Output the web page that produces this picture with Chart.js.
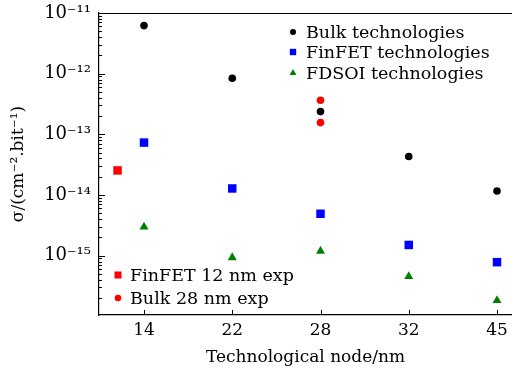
<!DOCTYPE html>
<html>
<head>
<meta charset="utf-8">
<script src="https://cdn.jsdelivr.net/npm/chart.js@4.4.1/dist/chart.umd.min.js"></script>
<style>
  html, body { margin: 0; padding: 0; background: #fff; }
</style>
</head>
<body>
<canvas id="chart" width="512" height="372"></canvas>
<script>
// x axis: technology nodes shown at positions 1..5
const nodeLabels = ['14', '22', '28', '32', '45'];
const nodePos = [1, 2, 3, 4, 5];

// sigma values (cm^-2.bit^-1)
const bulkValues = [6.2e-12, 8.4e-13, 2.37e-13, 4.3e-14, 1.16e-14];
const finfetValues = [7.3e-14, 1.28e-14, 4.9e-15, 1.5e-15, 7.8e-16];
const fdsoiValues = [2.97e-15, 9.3e-16, 1.19e-15, 4.55e-16, 1.82e-16];

// experimental points
const finfet12Pos = [0.7];
const finfet12Values = [2.54e-14];
const bulk28Pos = [3, 3];
const bulk28Values = [3.65e-13, 1.56e-13];

// y axis labels at each decade
const yTickValues = [1e-15, 1e-14, 1e-13, 1e-12, 1e-11];

const FONT = '"DejaVu Serif", serif';
const supMap = { '-': '\u207B', '0': '\u2070', '1': '\u00B9', '2': '\u00B2', '3': '\u00B3',
    '4': '\u2074', '5': '\u2075', '6': '\u2076', '7': '\u2077', '8': '\u2078', '9': '\u2079' };

function sup(str) {
    return String(str).split('').map(c => supMap[c] || c).join('');
}

function points(xs, ys) {
    return xs.map((x, i) => ({ x: x, y: ys[i] }));
}

// inward tick marks and the top spine, like the original figure
const tickPlugin = {
    id: 'inTicks',
    afterDraw(chart) {
        const { ctx, chartArea: a, scales: { x, y } } = chart;
        ctx.save();
        ctx.strokeStyle = '#000';
        ctx.lineWidth = 1;
        ctx.beginPath();
        ctx.moveTo(a.left, a.top + 0.5);
        ctx.lineTo(a.right, a.top + 0.5);
        for (let e = -17; e <= -11; e++) {
            for (let k = 1; k <= 9; k++) {
                const v = k * Math.pow(10, e);
                if (v < y.min * 0.999 || v > y.max * 1.001) continue;
                const py = Math.round(y.getPixelForValue(v)) + 0.5;
                const len = k === 1 ? 6 : 3;
                ctx.moveTo(a.left, py);
                ctx.lineTo(a.left + len, py);
            }
        }
        nodePos.forEach(p => {
            const px = Math.round(x.getPixelForValue(p)) + 0.5;
            ctx.moveTo(px, a.bottom);
            ctx.lineTo(px, a.bottom - 5);
        });
        ctx.stroke();
        ctx.restore();
    }
};

// two separate legends: technologies top right, experiments bottom left
const legendPlugin = {
    id: 'twoLegends',
    afterDraw(chart) {
        const ctx = chart.ctx;
        const ds = chart.data.datasets;
        const entries = [
            { i: 0, mx: 293, tx: 306, y: 32, r: 3 },
            { i: 1, mx: 293, tx: 306, y: 52, r: 4.5 },
            { i: 2, mx: 293, tx: 306, y: 73, r: 4 },
            { i: 3, mx: 118, tx: 130, y: 275, r: 5 },
            { i: 4, mx: 118, tx: 130, y: 298, r: 3.3 }
        ];
        ctx.save();
        ctx.font = '17.5px ' + FONT;
        ctx.textBaseline = 'middle';
        entries.forEach(e => {
            const d = ds[e.i];
            ctx.fillStyle = d.backgroundColor;
            Chart.helpers.drawPoint(ctx, { pointStyle: d.pointStyle, radius: e.r, borderWidth: 0, rotation: 0 }, e.mx, e.y);
            ctx.fillStyle = '#000';
            ctx.fillText(d.label, e.tx, e.y + 1);
        });
        ctx.restore();
    }
};

const ctx = document.getElementById('chart');
new Chart(ctx, {
    type: 'scatter',
    data: {
        datasets: [
            { label: 'Bulk technologies', data: points(nodePos, bulkValues),
              pointStyle: 'circle', pointRadius: 3.8, backgroundColor: '#000000', borderWidth: 0 },
            { label: 'FinFET technologies', data: points(nodePos, finfetValues),
              pointStyle: 'rect', pointRadius: 6, backgroundColor: '#0000ff', borderWidth: 0 },
            { label: 'FDSOI technologies', data: points(nodePos, fdsoiValues),
              pointStyle: 'triangle', pointRadius: 5.2, backgroundColor: '#008000', borderWidth: 0 },
            { label: 'FinFET 12 nm exp', data: points(finfet12Pos, finfet12Values),
              pointStyle: 'rect', pointRadius: 6, backgroundColor: '#ff0000', borderWidth: 0 },
            { label: 'Bulk 28 nm exp', data: points(bulk28Pos, bulk28Values),
              pointStyle: 'circle', pointRadius: 3.8, backgroundColor: '#ff0000', borderWidth: 0 }
        ]
    },
    options: {
        responsive: false,
        animation: false,
        devicePixelRatio: 1,
        layout: { autoPadding: false, padding: { top: 13, right: 0, left: 0, bottom: 0 } },
        plugins: {
            legend: { display: false },
            tooltip: { enabled: false }
        },
        scales: {
            x: {
                type: 'linear',
                min: 0.49,
                max: 5.17,
                grid: { display: false, drawTicks: false },
                border: { display: true, color: '#000', width: 1.2 },
                ticks: {
                    color: '#000',
                    font: { family: FONT, size: 17 },
                    padding: 5,
                    autoSkip: false,
                    maxRotation: 0,
                    callback: (v) => nodeLabels[nodePos.indexOf(v)]
                },
                afterBuildTicks: (scale) => {
                    scale.ticks = nodePos.map(v => ({ value: v }));
                },
                afterFit: (scale) => {
                    scale.height = 57;
                    scale.paddingLeft = 0;
                    scale.paddingRight = 0;
                },
                title: {
                    display: true,
                    text: 'Technological node/nm',
                    color: '#000',
                    font: { family: FONT, size: 17 },
                    padding: { top: 0, bottom: 4 }
                }
            },
            y: {
                type: 'logarithmic',
                min: 1.05e-16,
                max: 1e-11,
                grid: { display: false, drawTicks: false },
                border: { display: true, color: '#000', width: 1.2 },
                ticks: {
                    color: '#000',
                    font: { family: FONT, size: 18 },
                    padding: 8,
                    autoSkip: false,
                    callback: (v) => '10' + sup(Math.round(Math.log10(v)))
                },
                afterBuildTicks: (scale) => {
                    scale.ticks = yTickValues.map(v => ({ value: v }));
                },
                afterFit: (scale) => {
                    scale.width = 99;
                    scale.paddingTop = 0;
                    scale.paddingBottom = 0;
                },
                title: {
                    display: true,
                    text: '\u03C3/(cm' + sup(-2) + '.bit' + sup(-1) + ')',
                    color: '#000',
                    font: { family: FONT, size: 17 },
                    padding: { top: 8, bottom: 0 }
                }
            }
        }
    },
    plugins: [tickPlugin, legendPlugin]
});
</script>
</body>
</html>
